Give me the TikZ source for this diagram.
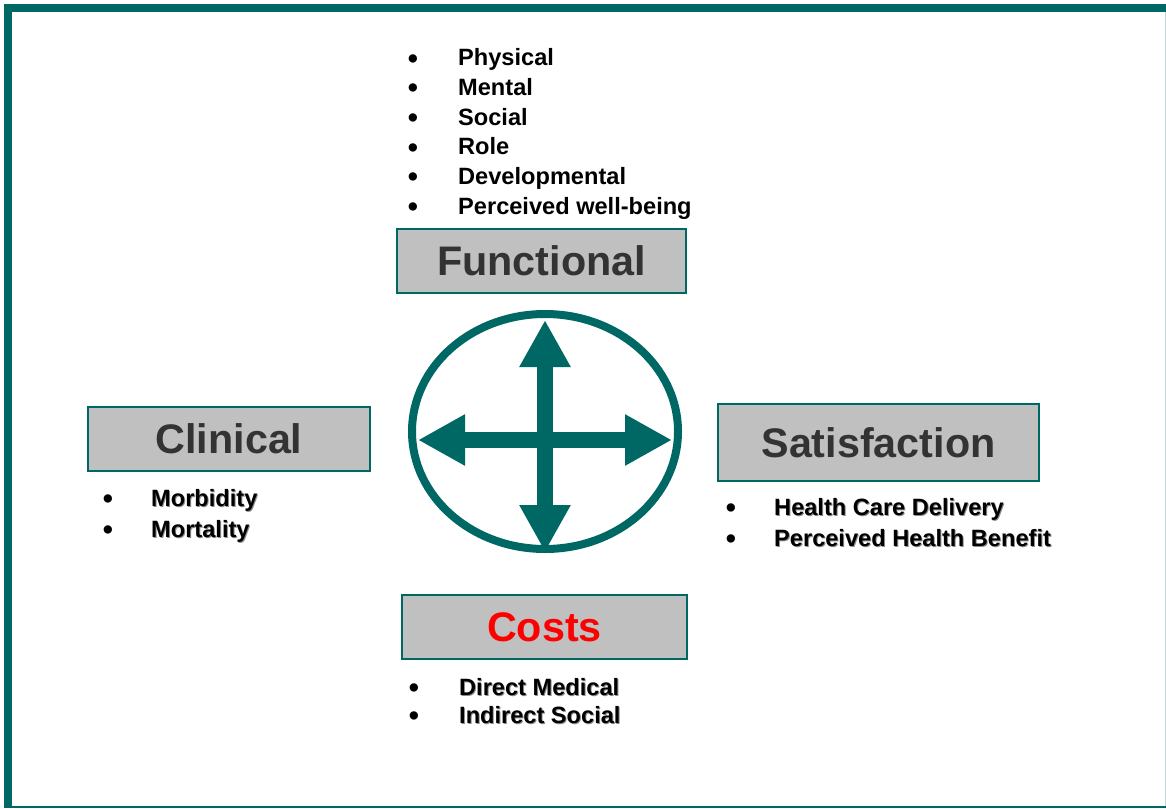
\documentclass[tikz,border=0pt]{standalone}
\usepackage{fontspec}
\setmainfont{Liberation Sans}
\usetikzlibrary{arrows.meta}
\definecolor{tealc}{RGB}{0,104,100}
\definecolor{boxgray}{RGB}{192,192,192}
\definecolor{headgray}{RGB}{51,51,51}
\newcommand\mysh[1]{\rlap{\kern1pt\raisebox{-1pt}{\textcolor{black!45}{#1}}}#1}
\begin{document}
\begin{tikzpicture}[x=1pt,y=-1pt,
  head/.style={draw=tealc, line width=2pt, fill=boxgray, inner sep=0pt,
    font=\fontsize{41.3}{48}\selectfont\bfseries, text=headgray},
  item/.style={anchor=base west, inner sep=0pt,
    font=\fontsize{23.6}{27}\selectfont\bfseries},
  dot/.style={anchor=base, inner sep=0pt, yshift=-2.2pt,
    font=\fontsize{29}{30}\selectfont\bfseries},
  bigarrow/.style={line width=16pt, draw=tealc,
    {Triangle[width=48pt,length=47pt]}-{Triangle[width=48pt,length=47pt]}}]
\useasboundingbox (0,0) rectangle (1166,808);
% frame
\fill[tealc] (4,4) rectangle (12,808);
\fill[tealc] (4,4) rectangle (1166,12);
\fill[tealc] (12,806) rectangle (1166,808);
\fill[tealc!25] (1164.5,12) rectangle (1166,806);

% boxes
\node[head, minimum width=289pt, minimum height=64pt] (func) at (541.5,261) {Functional};
\node[head, minimum width=282pt, minimum height=64pt] (clin) at (229,439) {Clinical};
\node[head, minimum width=321pt, minimum height=77pt] (sat) at (878.5,442.5) {Satisfaction};
\node[head, minimum width=285pt, minimum height=64pt, text=red] (cost) at (544.5,627) {Costs};

% central symbol
\draw[tealc, line width=8pt] (545,431.5) ellipse [x radius=133, y radius=117.5];
\coordinate (tN) at (545,320);
\coordinate (tS) at (545,552);
\coordinate (tW) at (418,440);
\coordinate (tE) at (672,440);
\draw[bigarrow] (tW) -- (tE);
\draw[bigarrow] (tN) -- (tS);

% functional list
\foreach \t [count=\i from 0] in {Physical,Mental,Social,Role,Developmental,Perceived well-being}{
  \node[dot] (fb\i) at (413,66+29.6*\i) {•};
  \node[item] (fi\i) at (458,66+29.6*\i) {\t};
}
% clinical list
\node[dot] (cb0) at (108,506) {•};
\node[item] (ci0) at (151,506) {\mysh{Morbidity}};
\node[dot] (cb1) at (108,537) {•};
\node[item] (ci1) at (151,537) {\mysh{Mortality}};
% satisfaction list
\node[dot] (sb0) at (731,515) {•};
\node[item] (si0) at (774,515) {\mysh{Health Care Delivery}};
\node[dot] (sb1) at (731,546) {•};
\node[item] (si1) at (774,546) {\mysh{Perceived Health Benefit}};
% costs list
\node[dot] (kb0) at (414,695) {•};
\node[item] (ki0) at (459,695) {\mysh{Direct Medical}};
\node[dot] (kb1) at (414,723.5) {•};
\node[item] (ki1) at (459,723.5) {\mysh{Indirect Social}};
\end{tikzpicture}
\end{document}
